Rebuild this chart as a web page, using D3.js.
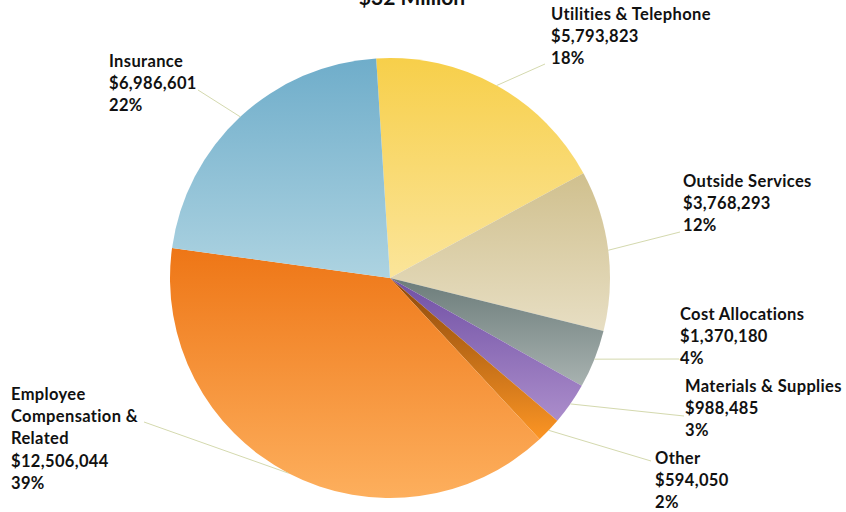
<!DOCTYPE html>
<html>
<head>
<meta charset="utf-8">
<script src="https://cdn.jsdelivr.net/npm/d3@7"></script>
<style>
  body { margin: 0; background: #fff; }
  text { font-family: Lato, "Open Sans", sans-serif; font-weight: bold; fill: #111; }
</style>
</head>
<body>
<div id="chart"></div>
<script>
var width = 846, height = 512;

// data, in clockwise order from the top
var categories = ["Utilities & Telephone", "Outside Services", "Cost Allocations", "Materials & Supplies", "Other", "Employee Compensation & Related", "Insurance"];
var amounts = [5793823, 3768293, 1370180, 988485, 594050, 12506044, 6986601];
var percents = ["18%", "12%", "4%", "3%", "2%", "39%", "22%"];
var titleText = "$32 Million";

// label text lines (Employee label wraps in the original)
var labelLines = [
  ["Utilities & Telephone"],
  ["Outside Services"],
  ["Cost Allocations"],
  ["Materials & Supplies"],
  ["Other"],
  ["Employee", "Compensation &", "Related"],
  ["Insurance"]
];

// gradient colours: top, bottom
var topColors = ["#F7CF4A", "#D0C08E", "#6C7C7A", "#7050A4", "#8A480C", "#EE7616", "#6FADCA"];
var bottomColors = ["#FBE59A", "#E7DEC3", "#A8B2B0", "#AB8DCB", "#FC9524", "#FDAF5D", "#ADD3E1"];

// layout
var cx = 390, cy = 278, radius = 220;
var startAngle = -3.6 * Math.PI / 180;
var lineH = 22.4;
// label block: left x, top of first line, leader end point
var labelPos = [
  {x: 551, y: 2,   lx: 545, ly: 64},
  {x: 683, y: 169, lx: 680, ly: 232},
  {x: 680, y: 302, lx: 679, ly: 359},
  {x: 685, y: 374, lx: 684, ly: 416},
  {x: 655, y: 446, lx: 651, ly: 461},
  {x: 11,  y: 382, lx: 144, ly: 422},
  {x: 109, y: 49,  lx: 198, ly: 90}
];

var fmt = d3.format("$,");

var svg = d3.select("#chart").append("svg")
  .attr("width", width)
  .attr("height", height);

var defs = svg.append("defs");
categories.forEach(function(c, i) {
  var g = defs.append("linearGradient")
    .attr("id", "grad" + i)
    .attr("x1", 0).attr("y1", 0).attr("x2", 0).attr("y2", 1);
  g.append("stop").attr("offset", "0%").attr("stop-color", topColors[i]);
  g.append("stop").attr("offset", "100%").attr("stop-color", bottomColors[i]);
});

var pie = d3.pie()
  .sort(null)
  .value(function(d) { return d; })
  .startAngle(startAngle)
  .endAngle(startAngle + 2 * Math.PI);

var arcs = pie(amounts);

var arc = d3.arc().innerRadius(0).outerRadius(radius);

var g = svg.append("g").attr("transform", "translate(" + cx + "," + cy + ")");

g.selectAll("path")
  .data(arcs)
  .enter()
  .append("path")
  .attr("d", arc)
  .attr("fill", function(d, i) { return "url(#grad" + i + ")"; });

// leader lines from the slice edge to the label
svg.selectAll("polyline.leader")
  .data(arcs)
  .enter()
  .append("polyline")
  .attr("class", "leader")
  .attr("points", function(d, i) {
    var a = (d.startAngle + d.endAngle) / 2;
    var x0 = cx + radius * Math.sin(a), y0 = cy - radius * Math.cos(a);
    var p = labelPos[i];
    return [[x0, y0], [p.lx, p.ly]].join(" ");
  })
  .attr("fill", "none")
  .attr("stroke", "#D4D9AE")
  .attr("stroke-width", 1);

// labels
var labels = svg.selectAll("text.label")
  .data(arcs)
  .enter()
  .append("text")
  .attr("class", "label")
  .attr("font-size", "16.5px")
  .attr("letter-spacing", "0.35px");

labels.each(function(d, i) {
  var t = d3.select(this);
  var lines = labelLines[i].concat([fmt(amounts[i]), percents[i]]);
  var p = labelPos[i];
  lines.forEach(function(s, k) {
    t.append("tspan")
      .attr("x", p.x)
      .attr("y", p.y + 17.5 + k * lineH)
      .text(s);
  });
});

// title, cut off at the top edge as in the original
svg.append("text")
  .attr("x", 412)
  .attr("y", 5)
  .attr("text-anchor", "middle")
  .attr("font-size", "21px")
  .text(titleText);
</script>
</body>
</html>
